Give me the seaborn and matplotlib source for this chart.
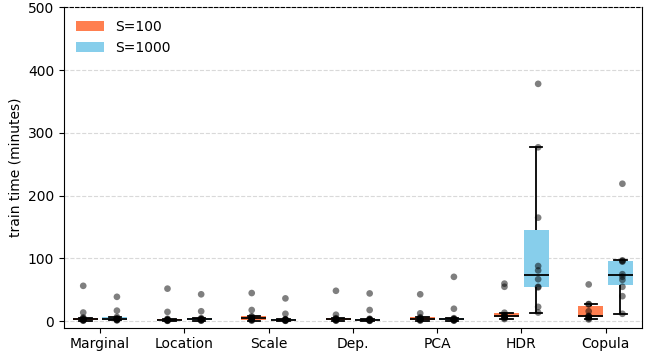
import numpy as np
import pandas as pd
import seaborn as sns
import matplotlib.pyplot as plt

# train time (minutes) per method, one value per dataset
methods = ["Marginal", "Location", "Scale", "Dep.", "PCA", "HDR", "Copula"]
sizes = ["S=100", "S=1000"]

marginal_s100 = [1, 1.5, 2, 2.5, 3, 3.5, 5, 6, 14, 56.5]
marginal_s1000 = [1.5, 2, 2.5, 3, 3.5, 4, 5, 7, 17, 39]
location_s100 = [0.8, 1, 1.5, 2, 2.2, 2.5, 3, 4, 15, 52]
location_s1000 = [1, 1.5, 2, 2.5, 3, 3.5, 4, 5, 16, 43]
scale_s100 = [1, 2, 2.5, 3, 4, 5, 7, 8, 18, 45]
scale_s1000 = [0.8, 1, 1.5, 2, 2.2, 2.5, 3, 3.5, 12, 36.5]
dep_s100 = [1, 1.5, 2, 2.5, 3, 3.5, 4, 5, 10.5, 48.6]
dep_s1000 = [0.8, 1, 1.5, 2, 2.5, 3, 3.5, 4, 18, 44.4]
pca_s100 = [1, 2, 2.5, 3, 3.5, 4, 5, 6.5, 12.7, 43]
pca_s1000 = [1, 1.5, 2, 2.5, 3, 3.5, 4, 5, 20, 70.8]
hdr_s100 = [3.6, 5, 6, 7.2, 8.6, 9.4, 9.7, 13.7, 55, 60]
hdr_s1000 = [14, 23, 54, 55, 67, 81, 88, 165, 277, 378]
copula_s100 = [3, 4.5, 6, 7.2, 8, 8.8, 16, 27, 27.5, 58.7]
copula_s1000 = [12, 40, 55, 66, 71, 75, 95, 96, 97, 219]

groups = [
    ("Marginal", marginal_s100, marginal_s1000),
    ("Location", location_s100, location_s1000),
    ("Scale", scale_s100, scale_s1000),
    ("Dep.", dep_s100, dep_s1000),
    ("PCA", pca_s100, pca_s1000),
    ("HDR", hdr_s100, hdr_s1000),
    ("Copula", copula_s100, copula_s1000),
]

rows = []
for method, small, large in groups:
    rows += [(method, "S=100", v) for v in small]
    rows += [(method, "S=1000", v) for v in large]
df = pd.DataFrame(rows, columns=["method", "size", "time"])

palette = {"S=100": "#FF7F50", "S=1000": "#87CEEB"}

fig = plt.figure(figsize=(6.45, 3.6), dpi=100)
ax = fig.add_axes([0.099, 0.09, 0.896, 0.89])

ax.grid(axis="y", linestyle="--", color="#d9d9d9", linewidth=0.8)
ax.set_axisbelow(True)

sns.boxplot(data=df, x="method", y="time", hue="size", order=methods,
            hue_order=sizes, palette=palette, width=0.7, gap=0.15,
            showfliers=False, saturation=1, linecolor="black", linewidth=1.3,
            boxprops=dict(edgecolor="none"), ax=ax)

sns.stripplot(data=df, x="method", y="time", hue="size", order=methods,
              hue_order=sizes, palette={"S=100": "black", "S=1000": "black"},
              dodge=True, jitter=False, size=4.8, alpha=0.5, legend=False, ax=ax)

ax.set_xlim(-0.43, 6.43)
ax.set_ylim(-10, 500)
ax.set_yticks([0, 100, 200, 300, 400, 500])
ax.set_xlabel("")
ax.set_ylabel("train time (minutes)")
ax.spines["top"].set_linestyle((0, (3, 2)))

ax.legend(loc="upper left", frameon=False, handlelength=2.0, handleheight=0.8,
          borderaxespad=0.5)

fig.savefig("out.png", dpi=100)
